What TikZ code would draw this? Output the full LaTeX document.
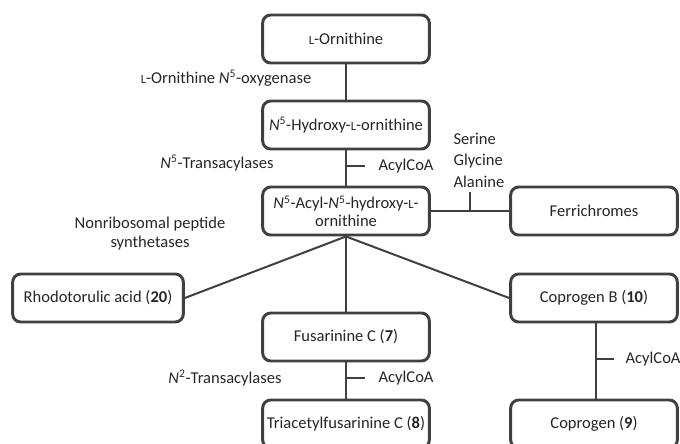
\documentclass[tikz,border=0pt]{standalone}
\usepackage{fontspec}
\setmainfont{Carlito}
\usetikzlibrary{positioning}
\definecolor{pathGray}{HTML}{404040}
\definecolor{pathInk}{HTML}{262626}
\newcommand{\Lsc}{{\fontsize{9.4}{11}\selectfont L}}
\newcommand{\Nsup}[1]{\textit{N}\textsuperscript{#1}}
\tikzset{
  box/.style={
    draw=pathGray,
    line width=2.2pt,
    rounded corners=6pt,
    fill=white,
    text=pathInk,
    align=center,
    minimum width=125pt,
    minimum height=36pt,
    inner sep=2pt,
    font=\fontsize{12.4}{14}\selectfont
  },
  lbl/.style={text=pathInk, align=center, inner sep=1pt, font=\fontsize{12.4}{16}\selectfont},
  link/.style={draw=pathGray, line width=1.5pt}
}
\begin{document}
\begin{tikzpicture}[x=0.75pt,y=-0.75pt]
  \useasboundingbox (0,0) rectangle (680,443);
  \clip (0,0) rectangle (680,443);
  % main column
  \node[box] (orn) at (346,39) {\Lsc-Ornithine};
  \node[box] (hydroxy) at (346,125) {\Nsup{5}-Hydroxy-\Lsc-ornithine};
  \node[box] (acyl) at (346,211) {\Nsup{5}-Acyl-\Nsup{5}-hydroxy-\Lsc-\\[-1pt]ornithine};
  \node[box] (fusc) at (346,337) {Fusarinine C (\textbf{7})};
  \node[box] (tafc) at (346,424) {Triacetylfusarinine C (\textbf{8})};
  % side products
  \node[box] (ferri) at (594,211) {Ferrichromes};
  \node[box, minimum width=128pt] (rhodo) at (98,298) {Rhodotorulic acid (\textbf{20})};
  \node[box] (coprob) at (594,298) {Coprogen B (\textbf{10})};
  \node[box] (copro) at (594,424) {Coprogen (\textbf{9})};

  % enzymes and cofactors
  \node[lbl] (oxy) at (226,78) {\Lsc-Ornithine \Nsup{5}-oxygenase};
  \node[lbl] (ntrans) at (217,163) {\Nsup{5}-Transacylases};
  \node[lbl, font=\fontsize{12.4}{14.2}\selectfont] (nrps) at (150,234) {Nonribosomal peptide\\synthetases};
  \node[lbl, align=left, anchor=south west] (aa) at (452,189) {Serine\\Glycine\\Alanine};
  \node[lbl] (n2trans) at (225,378) {\Nsup{2}-Transacylases};
  \coordinate (t1) at (346,166);
  \coordinate (t2) at (470,211);
  \coordinate (t3) at (346,378);
  \coordinate (t4) at (596,359);
  \node[lbl, anchor=west] (coa1) at (377,166) {AcylCoA};
  \node[lbl, anchor=west] (coa2) at (377,378) {AcylCoA};
  \node[lbl, anchor=west] (coa3) at (624,359) {AcylCoA};

  % connectors
  \draw[link] (orn) -- (hydroxy);
  \draw[link] (hydroxy) -- (acyl);
  \draw[link] (acyl) -- (ferri);
  \draw[link] (acyl.south) -- (rhodo.east);
  \draw[link] (acyl.south) -- (coprob.west);
  \draw[link] (acyl) -- (fusc);
  \draw[link] (fusc) -- (tafc);
  \draw[link] (coprob.south -| t4) -- (copro.north -| t4);
  \draw[link] (t1) -- ++(19,0);
  \draw[link] (t2) -- ++(0,-19);
  \draw[link] (t3) -- ++(19,0);
  \draw[link] (t4) -- ++(18,0);
\end{tikzpicture}
\end{document}
